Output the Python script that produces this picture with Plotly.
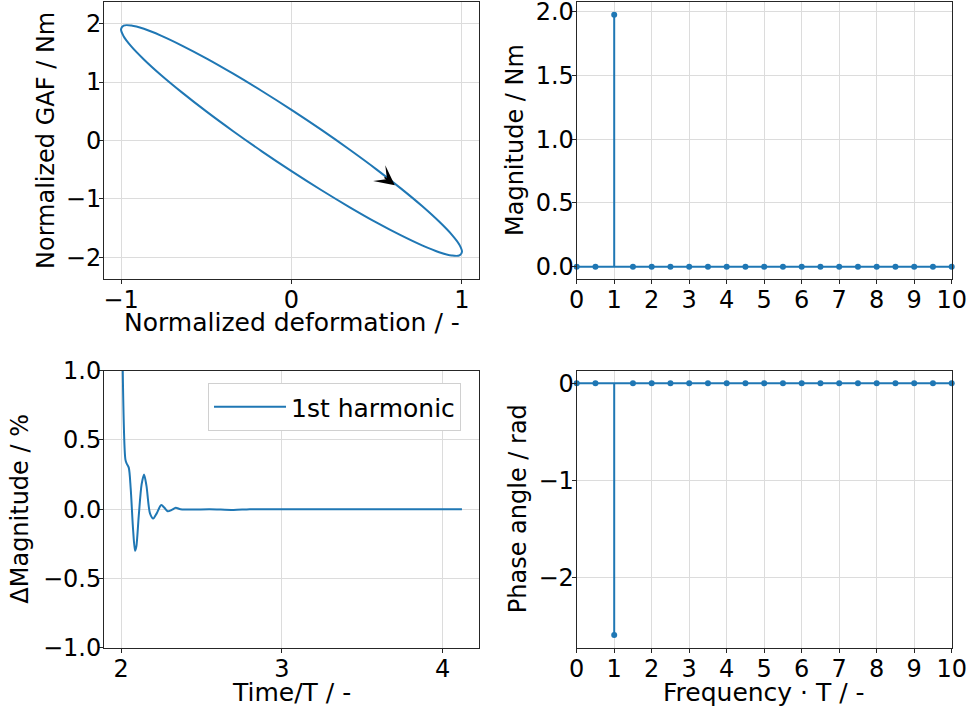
import plotly.graph_objects as go

# --- hysteresis loop: normalized deformation vs normalized GAF ---
deformation = [1.000, 0.985, 0.940, 0.866, 0.766, 0.643, 0.500, 0.342, 0.174, 0.000,
               -0.174, -0.342, -0.500, -0.643, -0.766, -0.866, -0.940, -0.985, -1.000,
               -0.985, -0.940, -0.866, -0.766, -0.643, -0.500, -0.342, -0.174, 0.000,
               0.174, 0.342, 0.500, 0.643, 0.766, 0.866, 0.940, 0.985, 1.000]
gaf = [-1.904, -1.784, -1.610, -1.387, -1.121, -0.823, -0.498, -0.159, 0.185, 0.524,
       0.847, 1.143, 1.406, 1.625, 1.795, 1.911, 1.968, 1.966, 1.904,
       1.784, 1.610, 1.387, 1.121, 0.823, 0.498, 0.159, -0.185, -0.524,
       -0.847, -1.143, -1.406, -1.625, -1.795, -1.911, -1.968, -1.966, -1.904]
arrow_tip = (0.606, -0.767)
arrow_tail = (0.537, -0.610)

# --- spectrum ---
freq = [0.0, 0.5, 1.0, 1.5, 2.0, 2.5, 3.0, 3.5, 4.0, 4.5, 5.0, 5.5, 6.0, 6.5,
        7.0, 7.5, 8.0, 8.5, 9.0, 9.5, 10.0]
magnitude = [0.0, 0.0, 1.975, 0.0, 0.0, 0.0, 0.0, 0.0, 0.0, 0.0, 0.0, 0.0, 0.0,
             0.0, 0.0, 0.0, 0.0, 0.0, 0.0, 0.0, 0.0]
phase = [0.0, 0.0, -2.59, 0.0, 0.0, 0.0, 0.0, 0.0, 0.0, 0.0, 0.0, 0.0, 0.0,
         0.0, 0.0, 0.0, 0.0, 0.0, 0.0, 0.0, 0.0]

# --- convergence of the 1st harmonic magnitude ---
time_T = [2.000, 2.027, 2.035, 2.048, 2.060, 2.075, 2.087, 2.095, 2.110, 2.128,
          2.143, 2.158, 2.180, 2.200, 2.222, 2.250, 2.270, 2.290, 2.315, 2.340,
          2.370, 2.450, 2.550, 2.700, 2.800, 3.000, 3.500, 4.120]
delta_mag = [2.10, 0.36, 0.33, 0.30, 0.15, -0.15, -0.30, -0.27, -0.05, 0.18,
             0.25, 0.17, -0.03, -0.067, -0.03, 0.03, 0.01, -0.015, -0.005, 0.01,
             0.0, -0.003, 0.0, -0.006, 0.0, 0.0, 0.0, 0.0]

BLUE = "#1f77b4"
FONT = "DejaVu Sans"
W, H = 969, 711


def stems(xs, ys):
    sx, sy = [], []
    for xv, yv in zip(xs, ys):
        sx += [xv, xv, None]
        sy += [0.0, yv, None]
    return sx, sy


fig = go.Figure()

fig.add_trace(go.Scatter(x=deformation, y=gaf, mode="lines",
                         line=dict(color=BLUE, width=2, shape="spline", smoothing=1.0),
                         xaxis="x", yaxis="y", showlegend=False))

for xa, ya, vals in (("x2", "y2", magnitude), ("x4", "y4", phase)):
    sx, sy = stems(freq, vals)
    fig.add_trace(go.Scatter(x=[freq[0], freq[-1]], y=[0, 0], mode="lines",
                             line=dict(color=BLUE, width=2), xaxis=xa, yaxis=ya,
                             showlegend=False))
    fig.add_trace(go.Scatter(x=sx, y=sy, mode="lines", line=dict(color=BLUE, width=2),
                             xaxis=xa, yaxis=ya, showlegend=False))
    fig.add_trace(go.Scatter(x=freq, y=vals, mode="markers",
                             marker=dict(color=BLUE, size=6), cliponaxis=False,
                             xaxis=xa, yaxis=ya, showlegend=False))

fig.add_trace(go.Scatter(x=time_T, y=delta_mag, mode="lines", name="1st harmonic",
                         line=dict(color=BLUE, width=2, shape="spline", smoothing=0.8),
                         xaxis="x3", yaxis="y3", showlegend=True))

# panel frames in pixels: left, right, top, bottom
frames = {
    "1": (104, 479, 2, 279),
    "2": (576.7, 951.7, 2, 279),
    "3": (104, 479, 370.7, 647.7),
    "4": (576.7, 951.7, 370.7, 647.7),
}

tick_font = dict(family=FONT, size=24, color="black")
xtitle_font = dict(family=FONT, size=25, color="black")
ytitle_font = dict(family=FONT, size=24, color="black")


def axis_common():
    return dict(showline=True, mirror=True, linecolor="#262626", linewidth=1,
                showgrid=True, gridcolor="#dcdcdc", gridwidth=1, zeroline=False,
                ticks="outside", ticklen=4, tickcolor="#262626", tickwidth=1,
                automargin=False, ticklabeloverflow="allow", tickfont=tick_font)


layout = {}
specs = {
    "1": dict(xr=[-1.1, 1.1], xt=[-1, 0, 1], xtitle="Normalized deformation / -",
              yr=[-2.37, 2.37], yt=[-2, -1, 0, 1, 2], ytitle="Normalized GAF / Nm", yfmt="",
              ytx=45.5, xty=43),
    "2": dict(xr=[0, 10], xt=list(range(11)), xtitle="",
              yr=[-0.097, 2.076], yt=[0.0, 0.5, 1.0, 1.5, 2.0], ytitle="Magnitude / Nm", yfmt=".1f",
              ytx=514.5, xty=43),
    "3": dict(xr=[1.894, 4.226], xt=[2, 3, 4], xtitle="Time/T / -",
              yr=[-1.0, 1.0], yt=[-1.0, -0.5, 0.0, 0.5, 1.0], ytitle="ΔMagnitude / %", yfmt=".1f",
              ytx=20.5, xty=45),
    "4": dict(xr=[0, 10], xt=list(range(11)), xtitle="Frequency · T / -",
              yr=[-2.72, 0.13], yt=[-2, -1, 0], ytitle="Phase angle / rad", yfmt="",
              ytx=518, xty=45),
}

for k, (l, r, t, b) in frames.items():
    s = specs[k]
    xname = "xaxis" if k == "1" else f"xaxis{k}"
    yname = "yaxis" if k == "1" else f"yaxis{k}"
    xa = axis_common()
    xa.update(domain=[l / W, r / W], range=s["xr"], tickvals=s["xt"],
              anchor="y" if k == "1" else f"y{k}", ticklabelstandoff=-5)
    ya = axis_common()
    ya.update(domain=[1 - b / H, 1 - t / H], range=s["yr"], tickvals=s["yt"],
              tickformat=s["yfmt"], anchor="x" if k == "1" else f"x{k}",
              ticklabelstandoff=-7)
    layout[xname] = xa
    layout[yname] = ya

    # axis titles
    if s["xtitle"]:
        fig.add_annotation(text=s["xtitle"], xref="paper", yref="paper",
                           x=(l + r) / 2 / W, y=1 - (b + s["xty"]) / H,
                           xanchor="center", yanchor="middle", showarrow=False,
                           font=xtitle_font)
    fig.add_annotation(text=s["ytitle"], xref="paper", yref="paper",
                       x=s["ytx"] / W, y=1 - (t + b) / 2 / H, textangle=-90,
                       xanchor="center", yanchor="middle", showarrow=False,
                       font=ytitle_font)

fig.update_layout(**layout)

fig.add_annotation(x=arrow_tip[0], y=arrow_tip[1], ax=arrow_tail[0], ay=arrow_tail[1],
                   xref="x", yref="y", axref="x", ayref="y", text="", showarrow=True,
                   arrowhead=3, arrowsize=2.2, arrowwidth=1.5, arrowcolor="black",
                   standoff=0)

fig.update_layout(
    width=W, height=H, margin=dict(l=0, r=0, t=0, b=0),
    paper_bgcolor="white", plot_bgcolor="white",
    font=dict(family=FONT, size=24, color="black"),
    legend=dict(x=208 / W, y=1 - 383 / H, xanchor="left", yanchor="top",
                bgcolor="white", bordercolor="#d0d0d0", borderwidth=1,
                font=dict(family=FONT, size=25, color="black"), itemwidth=72),
)

fig.write_html("out.html")
